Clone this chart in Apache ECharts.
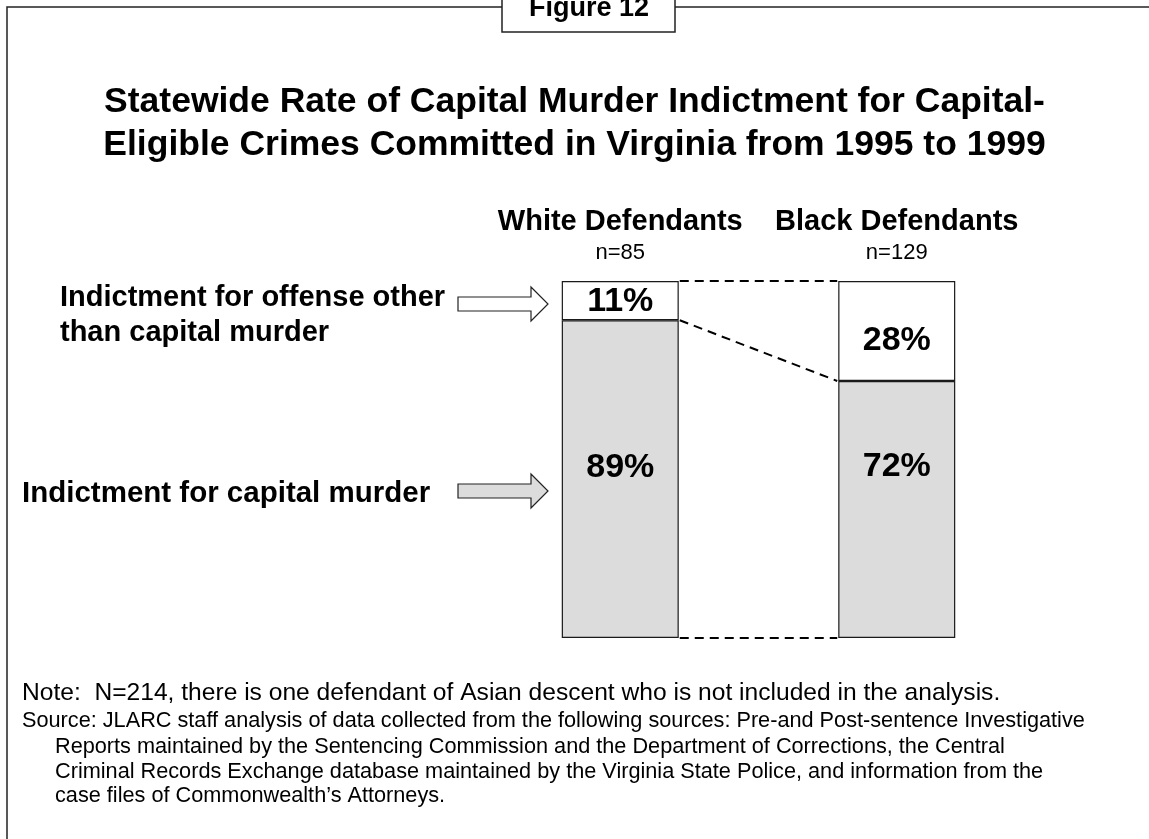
<!DOCTYPE html>
<html>
<head>
<meta charset="utf-8">
<script src="https://cdn.jsdelivr.net/npm/echarts@6/dist/echarts.min.js"></script>
<style>
  html, body { margin: 0; padding: 0; background: #fff; }
  #main { width: 1149px; height: 839px; }
</style>
</head>
<body>
<div id="main"></div>
<script>
// data
var groups = ['White Defendants', 'Black Defendants'];
var groupN = ['n=85', 'n=129'];
var capitalPct = [89, 72];   // Indictment for capital murder
var otherPct = [11, 28];     // Indictment for offense other than capital murder

var FONT = '"Liberation Sans", Arial, sans-serif';
var BAR_W = 117;

// segment boundaries (bottom, split, top) joined by dashed lines
var links = [
    [0, 0, 0],
    [0, capitalPct[0], capitalPct[1]],
    [0, capitalPct[0] + otherPct[0], capitalPct[1] + otherPct[1]]
];

var sourceLines = [
    'Reports maintained by the Sentencing Commission and the Department of Corrections, the Central',
    'Criminal Records Exchange database maintained by the Virginia State Police, and information from the',
    'case files of Commonwealth\u2019s Attorneys.'
];

var myChart = echarts.init(document.getElementById('main'));

var graphics = [
    // frame
    { type: 'polyline', shape: { points: [[7, 839], [7, 7], [502, 7]] }, style: { stroke: '#222', lineWidth: 1.5, fill: null } },
    { type: 'line', shape: { x1: 675, y1: 7, x2: 1149, y2: 7 }, style: { stroke: '#222', lineWidth: 1.5 } },
    { type: 'rect', shape: { x: 502, y: -5, width: 173, height: 37 }, style: { fill: '#fff', stroke: '#222', lineWidth: 1.5 } },
    { type: 'text', x: 589, y: 9, style: { text: 'Figure 12', font: 'bold 27px ' + FONT, fill: '#000', align: 'center', verticalAlign: 'middle' } },
    // arrows
    { type: 'polygon', shape: { points: [[458, 297], [531, 297], [531, 287], [548, 304], [531, 321], [531, 311], [458, 311]] }, style: { fill: '#fff', stroke: '#222', lineWidth: 1.2 } },
    { type: 'polygon', shape: { points: [[458, 484], [531, 484], [531, 474], [548, 491], [531, 508], [531, 498], [458, 498]] }, style: { fill: '#dcdcdc', stroke: '#222', lineWidth: 1.2 } },
    { type: 'text', x: 60, y: 298, style: { text: 'Indictment for offense other', font: 'bold 29px ' + FONT, fill: '#000', verticalAlign: 'middle' } },
    { type: 'text', x: 60, y: 333, style: { text: 'than capital murder', font: 'bold 29px ' + FONT, fill: '#000', verticalAlign: 'middle' } },
    { type: 'text', x: 22, y: 494, style: { text: 'Indictment for capital murder', font: 'bold 29.5px ' + FONT, fill: '#000', verticalAlign: 'middle' } },
    // notes
    { type: 'text', x: 22, y: 693, style: { text: 'Note:  N=214, there is one defendant of Asian descent who is not included in the analysis.', font: '24.6px ' + FONT, fill: '#000', verticalAlign: 'middle' } },
    { type: 'text', x: 22, y: 721, style: { text: 'Source: JLARC staff analysis of data collected from the following sources: Pre-and Post-sentence Investigative', font: '21.7px ' + FONT, fill: '#000', verticalAlign: 'middle' } }
];
sourceLines.forEach(function (t, i) {
    graphics.push({ type: 'text', x: 55, y: 747 + i * 24.6, style: { text: t, font: '21.7px ' + FONT, fill: '#000', verticalAlign: 'middle' } });
});

option = {
    backgroundColor: '#fff',
    animation: false,
    title: {
        text: 'Statewide Rate of Capital Murder Indictment for Capital-\nEligible Crimes Committed in Virginia from 1995 to 1999',
        left: 'center',
        top: 76,
        textStyle: { fontFamily: FONT, fontSize: 35.5, fontWeight: 'bold', color: '#000', lineHeight: 43 }
    },
    grid: { left: 482, width: 553, top: 281, height: 357 },
    xAxis: {
        type: 'category',
        position: 'top',
        data: groups,
        axisLine: { show: false },
        axisTick: { show: false },
        axisLabel: {
            margin: 13,
            formatter: function (v, i) { return '{b|' + v + '}\n{n|' + groupN[i] + '}'; },
            rich: {
                b: { fontFamily: FONT, fontSize: 29, fontWeight: 'bold', color: '#000', lineHeight: 33 },
                n: { fontFamily: FONT, fontSize: 22, color: '#000', lineHeight: 30 }
            }
        }
    },
    yAxis: { type: 'value', min: 0, max: 100, show: false },
    series: [
        {
            name: 'Indictment for capital murder',
            type: 'bar',
            stack: 'all',
            barWidth: BAR_W,
            data: [
                { value: capitalPct[0], label: { offset: [0, -12] } },
                { value: capitalPct[1], label: { offset: [0, -43] } }
            ],
            itemStyle: { color: '#dcdcdc', borderColor: '#1a1a1a', borderWidth: 1.2 },
            label: {
                show: true, position: 'inside', formatter: '{c}%',
                fontFamily: FONT, fontSize: 34, fontWeight: 'bold', color: '#000'
            }
        },
        {
            name: 'Indictment for offense other than capital murder',
            type: 'bar',
            stack: 'all',
            barWidth: BAR_W,
            data: [
                { value: otherPct[0], label: { offset: [0, 1] } },
                { value: otherPct[1], label: { offset: [0, 10] } }
            ],
            itemStyle: { color: '#fff', borderColor: '#1a1a1a', borderWidth: 1.2 },
            label: {
                show: true, position: 'inside', formatter: '{c}%',
                fontFamily: FONT, fontSize: 34, fontWeight: 'bold', color: '#000'
            }
        },
        {
            type: 'custom',
            data: links,
            encode: { x: 0, y: 1 },
            silent: true,
            z: 5,
            renderItem: function (params, api) {
                var p1 = api.coord([0, api.value(1)]);
                var p2 = api.coord([1, api.value(2)]);
                return {
                    type: 'line',
                    shape: { x1: p1[0] + BAR_W / 2 + 1, y1: p1[1], x2: p2[0] - BAR_W / 2 - 1, y2: p2[1] },
                    style: { stroke: '#000', lineWidth: 2, lineDash: [9, 6] }
                };
            }
        }
    ],
    graphic: graphics
};
myChart.setOption(option);
</script>
</body>
</html>
